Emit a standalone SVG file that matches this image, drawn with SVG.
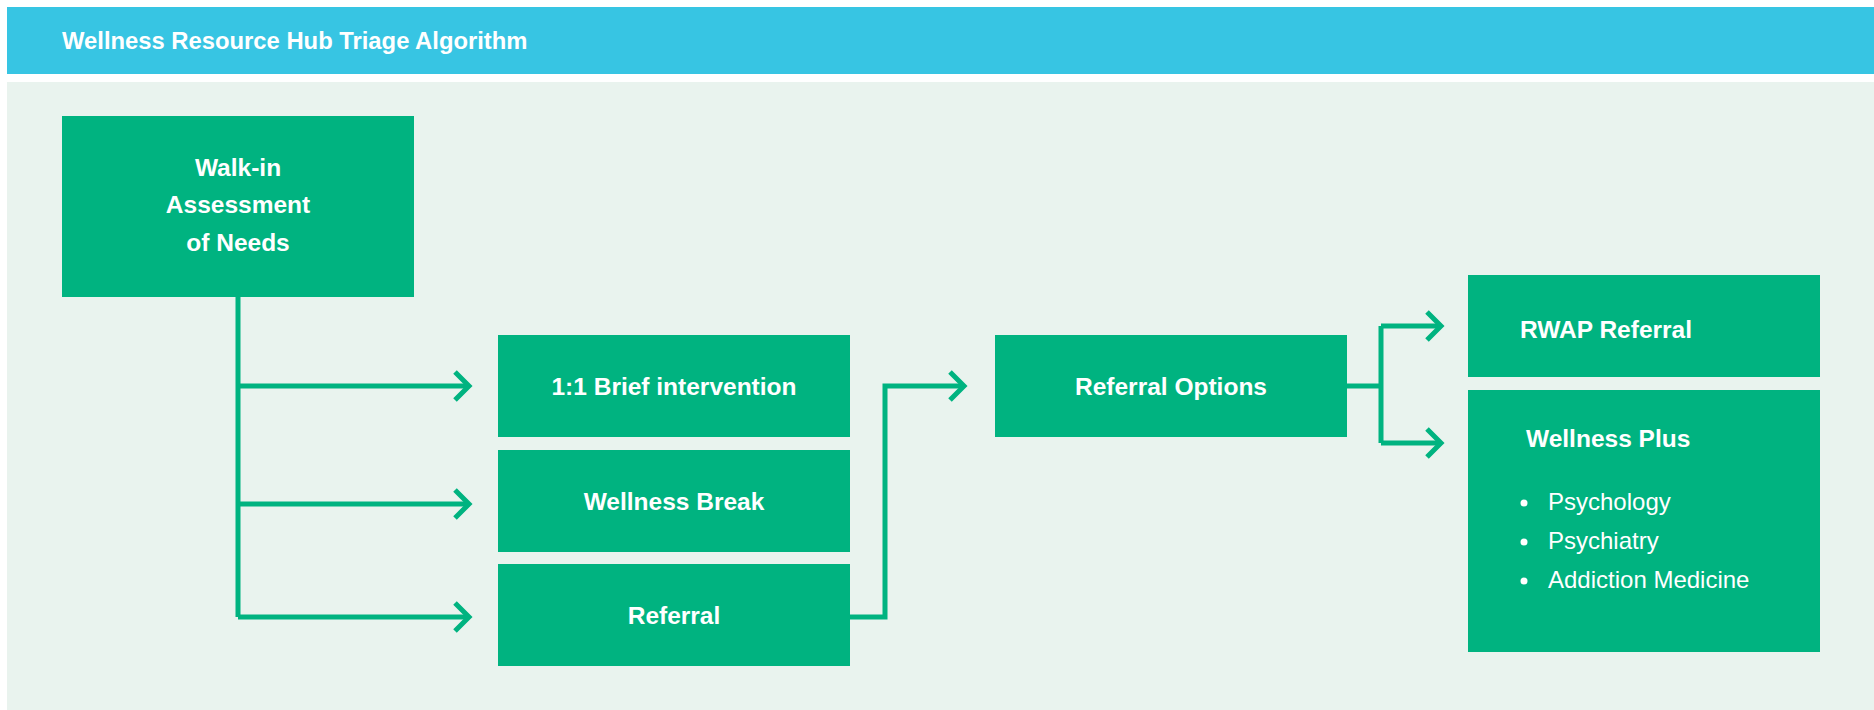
<svg xmlns="http://www.w3.org/2000/svg" width="1874" height="710" viewBox="0 0 1874 710">
<defs>
<style>
.box{fill:#00B380}
.t{font-family:"Liberation Sans",Arial,sans-serif;font-weight:bold;font-size:24.5px;fill:#FFFFFF}
.tc{text-anchor:middle}
.li{font-family:"Liberation Sans",Arial,sans-serif;font-size:24px;fill:#FFFFFF}
.ln{fill:none;stroke:#00B380;stroke-width:5;stroke-linecap:butt;stroke-linejoin:miter}
.hd{fill:none;stroke:#00B380;stroke-width:5;stroke-linecap:butt;stroke-linejoin:miter}
</style>
</defs>
<rect x="0" y="0" width="1874" height="710" fill="#FFFFFF"/>
<rect id="header" x="7" y="7" width="1867" height="67" fill="#37C5E3"/>
<text x="62" y="49" font-family="'Liberation Sans',Arial,sans-serif" font-weight="bold" font-size="23.8px" fill="#FFFFFF">Wellness Resource Hub Triage Algorithm</text>
<rect id="panel" x="7" y="82" width="1867" height="628" fill="#E9F3EE"/>

<g id="connectors">
<path class="ln" d="M238 297 V617 M238 386 H468 M238 504 H468 M238 617 H468"/>
<path class="hd" d="M455 372 L469 386 L455 400 M455 490 L469 504 L455 518 M455 603 L469 617 L455 631"/>
<path class="ln" d="M850 617 H885 V386 H963"/>
<path class="hd" d="M950 372 L964 386 L950 400"/>
<path class="ln" d="M1347 386 H1381 M1381 326 V443 M1381 326 H1440 M1381 443 H1440"/>
<path class="hd" d="M1427 312 L1441 326 L1427 340 M1427 429 L1441 443 L1427 457"/>
</g>

<g id="walkin">
<rect class="box" x="62" y="116" width="352" height="181"/>
<text class="t tc" x="238" y="176">Walk-in</text>
<text class="t tc" x="238" y="213">Assessment</text>
<text class="t tc" x="238" y="251">of Needs</text>
</g>
<g id="brief">
<rect class="box" x="498" y="335" width="352" height="102"/>
<text class="t tc" x="674" y="395">1:1 Brief intervention</text>
</g>
<g id="break">
<rect class="box" x="498" y="450" width="352" height="102"/>
<text class="t tc" x="674" y="510">Wellness Break</text>
</g>
<g id="referral">
<rect class="box" x="498" y="564" width="352" height="102"/>
<text class="t tc" x="674" y="624">Referral</text>
</g>
<g id="options">
<rect class="box" x="995" y="335" width="352" height="102"/>
<text class="t tc" x="1171" y="395">Referral Options</text>
</g>
<g id="rwap">
<rect class="box" x="1468" y="275" width="352" height="102"/>
<text class="t" x="1520" y="338">RWAP Referral</text>
</g>
<g id="wellnessplus">
<rect class="box" x="1468" y="390" width="352" height="262"/>
<text class="t" x="1526" y="447">Wellness Plus</text>
<circle cx="1524" cy="503" r="3.5" fill="#FFFFFF"/>
<circle cx="1524" cy="542" r="3.5" fill="#FFFFFF"/>
<circle cx="1524" cy="581" r="3.5" fill="#FFFFFF"/>
<text class="li" x="1548" y="510">Psychology</text>
<text class="li" x="1548" y="549">Psychiatry</text>
<text class="li" x="1548" y="588">Addiction Medicine</text>
</g>
</svg>
